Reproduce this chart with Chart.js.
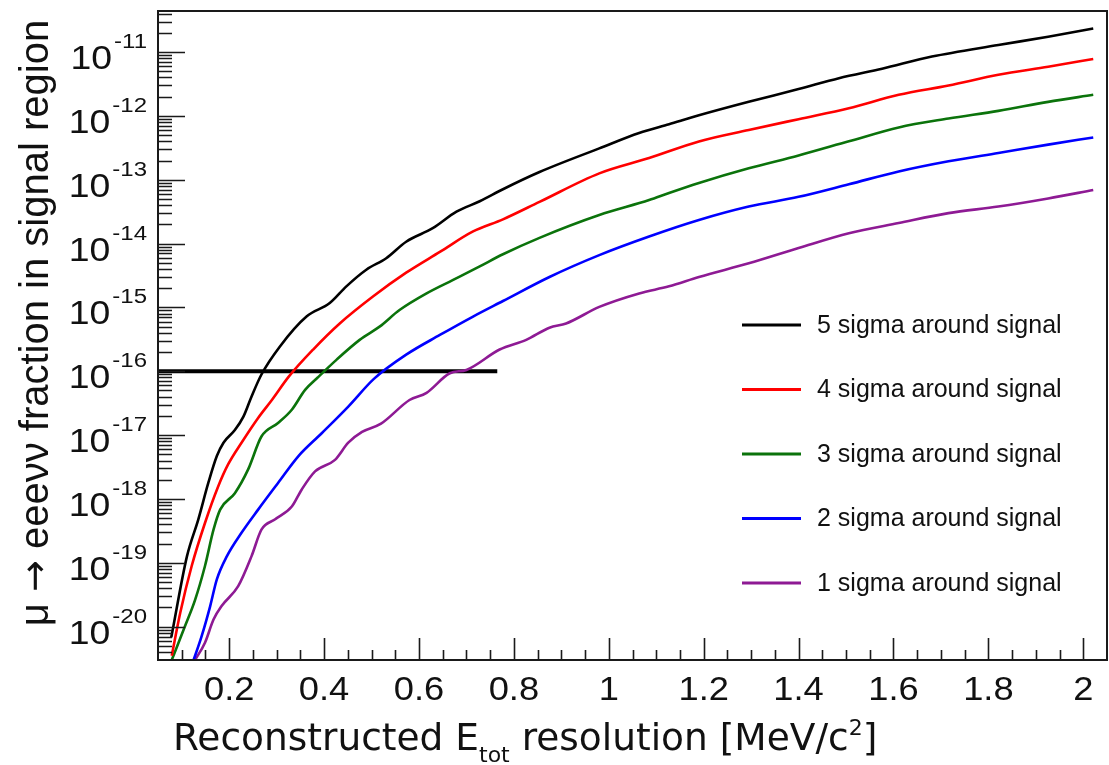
<!DOCTYPE html>
<html>
<head>
<meta charset="utf-8">
<script src="https://cdn.jsdelivr.net/npm/chart.js@4.4.1/dist/chart.umd.min.js"></script>
<style>
    html, body { margin: 0; padding: 0; background: #fff; }
    #wrap { width: 1109px; height: 765px; }
</style>
</head>
<body>
<div id="wrap"><canvas id="grafico" width="1109" height="765"></canvas></div>
<script>
/* ============================================================
   mu -> eeevv fraction in signal region vs E_tot resolution
============================================================ */

const SERIES_LABELS = [
    "5 sigma around signal",
    "4 sigma around signal",
    "3 sigma around signal",
    "2 sigma around signal",
    "1 sigma around signal"
];

// Valores (x en MeV/c^2, y = fracción)
const SIGMA5_X = [0.078, 0.111, 0.135, 0.156, 0.174, 0.188, 0.212, 0.230, 0.247, 0.268, 0.307, 0.363, 0.412, 0.447, 0.489, 0.531, 0.573, 0.629, 0.679, 0.728, 0.777, 0.854, 0.980, 1.064, 1.127, 1.190, 1.295, 1.400, 1.485, 1.576, 1.681, 1.821, 1.926, 2.021];
const SIGMA5_Y = [6.8e-21, 1.26e-19, 4.8e-19, 1.78e-18, 4.7e-18, 7.6e-18, 1.2e-17, 1.95e-17, 4.0e-17, 8.9e-17, 2.45e-16, 7.2e-16, 1.17e-15, 2.14e-15, 3.9e-15, 5.9e-15, 1.07e-14, 1.74e-14, 3.16e-14, 4.6e-14, 7.1e-14, 1.32e-13, 3.1e-13, 5.4e-13, 7.4e-13, 1.02e-12, 1.66e-12, 2.63e-12, 3.9e-12, 5.5e-12, 8.5e-12, 1.29e-11, 1.74e-11, 2.34e-11];

const SIGMA4_X = [0.079, 0.097, 0.121, 0.149, 0.177, 0.198, 0.226, 0.261, 0.290, 0.326, 0.377, 0.433, 0.503, 0.573, 0.644, 0.714, 0.777, 0.854, 0.980, 1.085, 1.190, 1.295, 1.400, 1.506, 1.611, 1.716, 1.821, 1.926, 2.021];
const SIGMA4_Y = [3.5e-21, 1.66e-20, 8.9e-20, 4.2e-19, 1.58e-18, 3.5e-18, 7.6e-18, 1.86e-17, 3.55e-17, 8.3e-17, 2.19e-16, 5.6e-16, 1.48e-15, 3.5e-15, 7.4e-15, 1.55e-14, 2.4e-14, 4.5e-14, 1.26e-13, 2.19e-13, 3.98e-13, 6.0e-13, 8.9e-13, 1.32e-12, 2.14e-12, 3.0e-12, 4.4e-12, 5.9e-12, 7.8e-12];

const SIGMA3_X = [0.079, 0.107, 0.128, 0.149, 0.167, 0.181, 0.212, 0.240, 0.268, 0.303, 0.332, 0.360, 0.386, 0.426, 0.475, 0.517, 0.559, 0.616, 0.672, 0.728, 0.777, 0.854, 0.980, 1.085, 1.127, 1.190, 1.295, 1.400, 1.506, 1.611, 1.716, 1.821, 1.926, 2.021];
const SIGMA3_Y = [3.0e-21, 1.02e-20, 2.6e-20, 8.9e-20, 3.3e-19, 6.8e-19, 1.23e-18, 2.9e-18, 9.5e-18, 1.55e-17, 2.5e-17, 5.1e-17, 7.9e-17, 1.51e-16, 3.1e-16, 5.0e-16, 9.1e-16, 1.66e-15, 2.7e-15, 4.4e-15, 6.8e-15, 1.23e-14, 2.8e-14, 4.8e-14, 6.2e-14, 8.9e-14, 1.51e-13, 2.4e-13, 4.0e-13, 6.6e-13, 9.1e-13, 1.2e-12, 1.66e-12, 2.14e-12];

const SIGMA2_X = [0.125, 0.142, 0.160, 0.174, 0.195, 0.226, 0.261, 0.303, 0.346, 0.395, 0.451, 0.505, 0.573, 0.644, 0.714, 0.777, 0.875, 0.980, 1.085, 1.190, 1.295, 1.400, 1.506, 1.611, 1.716, 1.821, 1.926, 2.021];
const SIGMA2_Y = [3.0e-21, 7.1e-21, 2.1e-20, 5.5e-20, 1.26e-19, 2.95e-19, 6.8e-19, 1.78e-18, 4.7e-18, 1.07e-17, 2.8e-17, 7.6e-17, 1.82e-16, 3.7e-16, 7.2e-16, 1.26e-15, 3.0e-15, 6.6e-15, 1.29e-14, 2.34e-14, 3.8e-14, 5.4e-14, 8.5e-14, 1.35e-13, 1.95e-13, 2.63e-13, 3.55e-13, 4.6e-13];

const SIGMA1_X = [0.128, 0.149, 0.167, 0.184, 0.219, 0.247, 0.268, 0.297, 0.332, 0.353, 0.381, 0.423, 0.451, 0.480, 0.520, 0.580, 0.616, 0.665, 0.700, 0.770, 0.826, 0.875, 0.910, 0.980, 1.064, 1.127, 1.190, 1.295, 1.400, 1.506, 1.611, 1.716, 1.821, 1.926, 2.021];
const SIGMA1_Y = [3.0e-21, 5.6e-21, 1.29e-20, 2.1e-20, 4.3e-20, 1.26e-19, 3.3e-19, 4.8e-19, 7.6e-19, 1.41e-18, 2.7e-18, 4.1e-18, 7.6e-18, 1.12e-17, 1.51e-17, 3.55e-17, 4.6e-17, 9.3e-17, 1.05e-16, 2.19e-16, 3.1e-16, 4.8e-16, 5.6e-16, 1.02e-15, 1.66e-15, 2.14e-15, 3.0e-15, 4.9e-15, 8.5e-15, 1.45e-14, 2.1e-14, 3.0e-14, 3.8e-14, 5.1e-14, 6.9e-14];

// Línea horizontal de referencia en 1e-16
const LIMIT_X = [0.05, 0.765];
const LIMIT_Y = [1e-16, 1e-16];

// Ejes
const X_TICKS = [0.2, 0.4, 0.6, 0.8, 1, 1.2, 1.4, 1.6, 1.8, 2];
const X_TICK_LABELS = ["0.2", "0.4", "0.6", "0.8", "1", "1.2", "1.4", "1.6", "1.8", "2"];
const Y_DECADES = [-11, -12, -13, -14, -15, -16, -17, -18, -19, -20];

const FUENTE = '"Liberation Sans", Arial, Helvetica, sans-serif';
const FUENTE_DV = '"DejaVu Sans", sans-serif';

function toPoints(xs, ys) {
    return xs.map((x, i) => ({ x, y: ys[i] }));
}

// texto con estiramiento horizontal (las etiquetas ROOT salen algo anchas)
function textoAncho(ctx, txt, x, y, font, escala, align) {
    ctx.save();
    ctx.font = font;
    ctx.textAlign = align;
    ctx.translate(x, y);
    ctx.scale(escala, 1);
    ctx.fillText(txt, 0, 0);
    ctx.restore();
    ctx.font = font;
    return ctx.measureText(txt).width * escala;
}

// texto compuesto por trozos con fuentes / desplazamientos distintos
function textoPartes(ctx, partes, x0, y0, centrado) {
    let total = 0;
    for (const p of partes) {
        ctx.font = p.f;
        total += ctx.measureText(p.t).width;
    }
    let x = centrado ? x0 - total / 2 : x0;
    ctx.textAlign = "left";
    ctx.textBaseline = "alphabetic";
    for (const p of partes) {
        ctx.font = p.f;
        ctx.fillText(p.t, x, y0 + (p.dy || 0));
        x += ctx.measureText(p.t).width;
    }
}

/* Ejes estilo ROOT: marco, ticks hacia dentro y etiquetas 10^n */
const ejesRoot = {
    id: "ejesRoot",
    afterDatasetsDraw(chart) {
        const { ctx, chartArea: a, scales } = chart;
        const sx = scales.x, sy = scales.y;
        ctx.save();

        // marco
        ctx.strokeStyle = "#1a1a1a";
        ctx.lineWidth = 2;
        ctx.strokeRect(a.left, a.top, a.right - a.left, a.bottom - a.top);

        // ticks eje x cada 0.05
        ctx.lineWidth = 1.6;
        ctx.beginPath();
        for (let i = 2; i <= 40; i++) {
            const v = i * 0.05;
            const px = Math.round(sx.getPixelForValue(v)) + 0.5;
            const largo = (i % 4 === 0) ? 22 : 10;
            ctx.moveTo(px, a.bottom);
            ctx.lineTo(px, a.bottom - largo);
        }
        ctx.stroke();

        // ticks eje y (log)
        ctx.beginPath();
        for (let d = -21; d <= -11; d++) {
            for (let k = 1; k <= 9; k++) {
                const v = k * Math.pow(10, d);
                if (v < sy.min || v > sy.max) continue;
                const py = Math.round(sy.getPixelForValue(v)) + 0.5;
                const largo = (k === 1) ? 27 : 14;
                ctx.moveTo(a.left, py);
                ctx.lineTo(a.left + largo, py);
            }
        }
        ctx.stroke();

        // etiquetas x
        ctx.fillStyle = "#111";
        ctx.textBaseline = "alphabetic";
        X_TICKS.forEach((v, i) => {
            textoAncho(ctx, X_TICK_LABELS[i], sx.getPixelForValue(v), 700, "33px " + FUENTE, 1.1, "center");
        });

        // etiquetas y: 10^n
        for (const d of Y_DECADES) {
            const py = sy.getPixelForValue(Math.pow(10, d));
            const sup = "-" + Math.abs(d);
            const wSup = textoAncho(ctx, sup, a.left - 11, py - 4, "20px " + FUENTE, 1.2, "right");
            textoAncho(ctx, "10", a.left - 13 - wSup, py + 17, "34px " + FUENTE, 1.1, "right");
        }

        ctx.restore();
    }
};

/* Títulos de ejes y leyenda */
const textosRoot = {
    id: "textosRoot",
    afterDraw(chart) {
        const { ctx } = chart;
        ctx.save();
        ctx.fillStyle = "#111";

        // título eje y (rotado)
        ctx.save();
        ctx.translate(48, 323);
        ctx.rotate(-Math.PI / 2);
        textoPartes(ctx, [
            { t: "\u03bc ", f: "40px " + FUENTE },
            { t: "\u2192", f: "38px " + FUENTE_DV, dy: -1 },
            { t: " eee\u03bd\u03bd fraction in signal region", f: "40px " + FUENTE }
        ], 0, 0, true);
        ctx.restore();

        // título eje x con subíndice y superíndice
        textoPartes(ctx, [
            { t: "Reconstructed E", f: "37.5px " + FUENTE_DV },
            { t: "tot", f: "22px " + FUENTE_DV, dy: 12 },
            { t: " resolution [MeV/c", f: "37.5px " + FUENTE_DV },
            { t: "2", f: "22px " + FUENTE_DV, dy: -15 },
            { t: "]", f: "37.5px " + FUENTE_DV }
        ], 173, 750, false);

        // leyenda
        const sets = chart.data.datasets.filter(ds => SERIES_LABELS.includes(ds.label));
        ctx.font = "25px " + FUENTE;
        ctx.textAlign = "left";
        ctx.textBaseline = "middle";
        sets.forEach((ds, i) => {
            const y = 325 + i * 64.5;
            ctx.strokeStyle = ds.borderColor;
            ctx.lineWidth = 3;
            ctx.beginPath();
            ctx.moveTo(742, y);
            ctx.lineTo(801, y);
            ctx.stroke();
            ctx.fillText(ds.label, 817, y + 1);
        });

        ctx.restore();
    }
};

const lineaBase = {
    fill: false,
    borderWidth: 2.6,
    pointRadius: 0,
    cubicInterpolationMode: "monotone"
};

new Chart(document.getElementById("grafico"), {
    type: "line",
    data: {
        datasets: [
            { ...lineaBase, label: SERIES_LABELS[0], data: toPoints(SIGMA5_X, SIGMA5_Y), borderColor: "#000000" },
            { ...lineaBase, label: SERIES_LABELS[1], data: toPoints(SIGMA4_X, SIGMA4_Y), borderColor: "#ff0000" },
            { ...lineaBase, label: SERIES_LABELS[2], data: toPoints(SIGMA3_X, SIGMA3_Y), borderColor: "#0b730b" },
            { ...lineaBase, label: SERIES_LABELS[3], data: toPoints(SIGMA2_X, SIGMA2_Y), borderColor: "#0000ff" },
            { ...lineaBase, label: SERIES_LABELS[4], data: toPoints(SIGMA1_X, SIGMA1_Y), borderColor: "#8e1a94" },
            { label: "limite", data: toPoints(LIMIT_X, LIMIT_Y), borderColor: "#000000", borderWidth: 4, pointRadius: 0, fill: false }
        ]
    },
    options: {
        responsive: false,
        animation: false,
        layout: { padding: { left: 158, top: 11, right: 2, bottom: 105 } },
        plugins: { legend: { display: false }, tooltip: { enabled: false } },
        scales: {
            x: { type: "linear", min: 0.05, max: 2.05, display: false },
            y: { type: "logarithmic", min: 3e-21, max: 4.4e-11, display: false }
        }
    },
    plugins: [ejesRoot, textosRoot]
});
</script>
</body>
</html>
